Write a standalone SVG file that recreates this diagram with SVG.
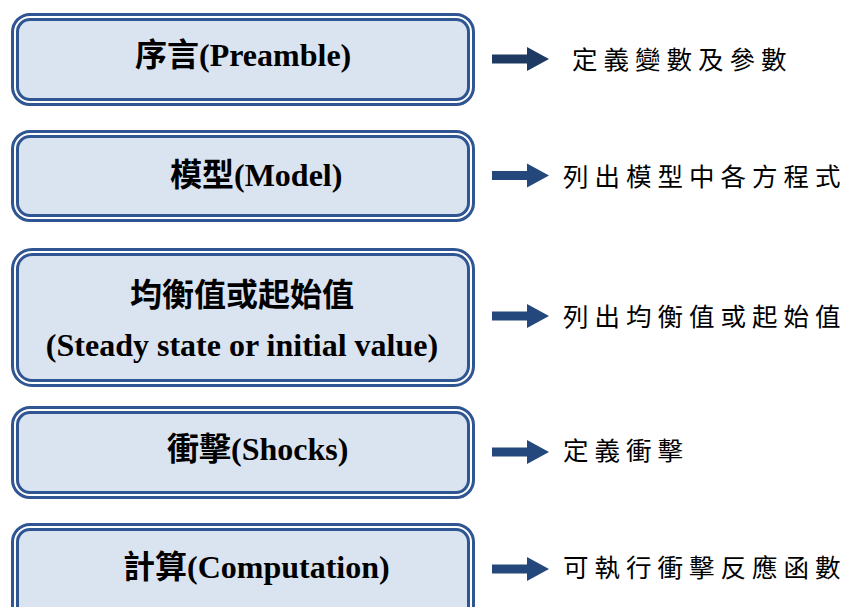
<svg xmlns="http://www.w3.org/2000/svg" width="851" height="607" viewBox="0 0 851 607">
<style>
.box-o{fill:#DAE3F0;stroke:#2F5592;stroke-width:8}
.box-i{fill:none;stroke:#FFFFFF;stroke-width:2}
.lbl{font-family:"Liberation Serif","Noto Sans CJK TC",serif;font-weight:bold;font-size:32px;fill:#000}
.desc{font-family:"Noto Sans CJK TC",sans-serif;font-size:25.5px;letter-spacing:6px;fill:#000}
.arr{fill:#24487C}
</style>
<defs>
<path id="arrow" d="M0,-4.5 H35 V-12 L57,0 L35,12 V4.5 H0 Z"/>
</defs>
<rect width="851" height="607" fill="#FFFFFF"/>
<g id="node-preamble">
<rect class="box-o" x="15" y="17" width="456" height="85" rx="15"/>
<rect class="box-i" x="15" y="17" width="456" height="85" rx="15"/>
<text class="lbl" x="135" y="66">序言(Preamble)</text>
</g>
<g id="node-model">
<rect class="box-o" x="15" y="134" width="456" height="84" rx="15"/>
<rect class="box-i" x="15" y="134" width="456" height="84" rx="15"/>
<text class="lbl" x="170" y="186">模型(Model)</text>
</g>
<g id="node-steady">
<rect class="box-o" x="15" y="252" width="456" height="131" rx="17"/>
<rect class="box-i" x="15" y="252" width="456" height="131" rx="17"/>
<text class="lbl" x="242" y="306" text-anchor="middle">均衡值或起始值</text>
<text class="lbl" x="242" y="356" text-anchor="middle">(Steady state or initial value)</text>
</g>
<g id="node-shocks">
<rect class="box-o" x="15" y="410" width="456" height="85" rx="15"/>
<rect class="box-i" x="15" y="410" width="456" height="85" rx="15"/>
<text class="lbl" x="167" y="460">衝擊(Shocks)</text>
</g>
<g id="node-computation">
<rect class="box-o" x="15" y="527" width="456" height="110" rx="15"/>
<rect class="box-i" x="15" y="527" width="456" height="110" rx="15"/>
<text class="lbl" x="123" y="578">計算(Computation)</text>
</g>
<g id="connectors">
<use href="#arrow" x="492" y="59" style="fill:#1F3A62"/>
<use href="#arrow" x="492" y="175.5" class="arr"/>
<use href="#arrow" x="492" y="316" class="arr"/>
<use href="#arrow" x="492" y="452" class="arr"/>
<use href="#arrow" x="492" y="569" class="arr"/>
</g>
<g id="descriptions">
<text class="desc" x="572" y="69">定義變數及參數</text>
<text class="desc" x="563" y="186">列出模型中各方程式</text>
<text class="desc" x="563" y="326">列出均衡值或起始值</text>
<text class="desc" x="563" y="460">定義衝擊</text>
<text class="desc" x="563" y="577">可執行衝擊反應函數</text>
</g>
</svg>
